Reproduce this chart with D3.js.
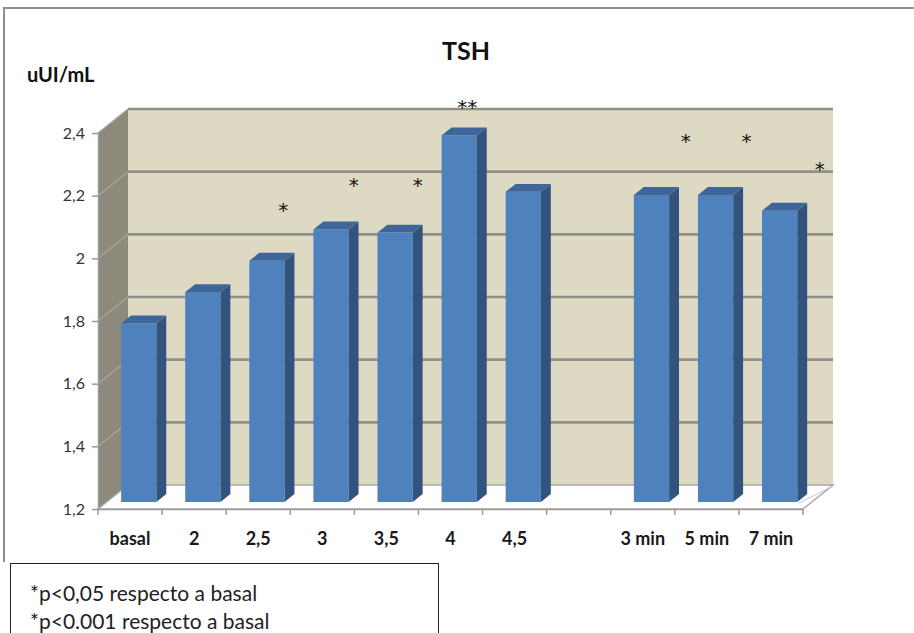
<!DOCTYPE html>
<html>
<head>
<meta charset="utf-8">
<script src="https://cdn.jsdelivr.net/npm/d3@7/dist/d3.min.js"></script>
<style>
  html, body { margin: 0; padding: 0; background: #fff; }
  svg { display: block; font-family: Lato, "Open Sans", sans-serif; }
</style>
</head>
<body>
<svg id="chart" width="914" height="633"></svg>
<script>
// TSH levels per sampling point
const categories = ["basal", "2", "2,5", "3", "3,5", "4", "4,5", "", "3 min", "5 min", "7 min"];
const values     = [1.77, 1.87, 1.97, 2.07, 2.06, 2.37, 2.19, null, 2.18, 2.18, 2.13];

// significance markers placed above the bars
const markCategories = ["2,5", "3", "3,5", "4", "3 min", "5 min", "7 min"];
const markTexts      = ["*", "*", "*", "**", "*", "*", "*"];
const markLevels     = [2.17, 2.25, 2.25, 2.50, 2.39, 2.39, 2.30];
const markShifts     = [0.39, 0.49, 0.49, 0.26, 0.67, 0.62, 0.76];

const yTicks      = [1.2, 1.4, 1.6, 1.8, 2.0, 2.2, 2.4];
const yTickLabels = ["1,2", "1,4", "1,6", "1,8", "2", "2,2", "2,4"];

const legendLines = ["*p<0,05 respecto a basal", "*p<0.001 respecto a basal"];

const svg = d3.select("#chart");

// oblique 3D projection: front plane + depth offset
const DX = 30, DY = 24;
const x = d3.scaleBand().domain(d3.range(categories.length)).range([98, 803]).paddingInner(0).paddingOuter(0);
const y = d3.scaleLinear().domain([1.2, 2.4]).range([509, 133]);
const P = (px, v, z) => [px + z * DX, y(v) - z * DY];
const poly = pts => "M" + pts.map(p => p.join(",")).join("L") + "Z";

const x0 = x.range()[0], x1 = x.range()[1];
const vMin = y.domain()[0], vMax = y.domain()[1];

// outer chart frame
svg.append("path")
  .attr("d", `M4,562 L4,8 L914,8`)
  .attr("fill", "none").attr("stroke", "#8f8f8f").attr("stroke-width", 2);

// side wall
svg.append("path")
  .attr("d", poly([P(x0, vMax, 0), P(x0, vMax, 1), P(x0, vMin, 1), P(x0, vMin, 0)]))
  .attr("fill", "#8d8a7b");

// back wall
svg.append("path")
  .attr("d", poly([P(x0, vMax, 1), P(x1, vMax, 1), P(x1, vMin, 1), P(x0, vMin, 1)]))
  .attr("fill", "#ddd9c3");

// gridlines on side and back walls
yTicks.forEach(t => {
  if (t === vMin) return;
  const a = P(x0, t, 0), b = P(x0, t, 1), c = P(x1, t, 1);
  svg.append("line")
    .attr("x1", a[0]).attr("y1", a[1]).attr("x2", b[0]).attr("y2", b[1])
    .attr("stroke", "#a9a79b").attr("stroke-width", 1.2);
  svg.append("line")
    .attr("x1", b[0]).attr("y1", b[1]).attr("x2", c[0]).attr("y2", c[1])
    .attr("stroke", "#8f8e8a").attr("stroke-width", 2.6);
});

// floor
svg.append("path")
  .attr("d", poly([P(x0, vMin, 0), P(x1, vMin, 0), P(x1, vMin, 1), P(x0, vMin, 1)]))
  .attr("fill", "#ffffff").attr("stroke", "#a8a8a8").attr("stroke-width", 1.5);
{
  const a = P(x1, vMin, 0), b = P(x1, vMin, 1);
  svg.append("line")
    .attr("x1", a[0] - 4).attr("y1", a[1] - 6).attr("x2", b[0]).attr("y2", b[1] + 1)
    .attr("stroke", "#c4c4c4").attr("stroke-width", 1);
}

// bars
const zFront = 0.29, zBack = 0.62;
const barFrac = 0.55;
const bars = svg.append("g");
categories.forEach((c, i) => {
  const v = values[i];
  if (v == null) return;
  const bw = x.bandwidth() * barFrac;
  const left = x(i) + (x.bandwidth() - bw) / 2;
  const right = left + bw;
  const g = bars.append("g");
  // front face
  g.append("path")
    .attr("d", poly([P(left, v, zFront), P(right, v, zFront), P(right, vMin, zFront), P(left, vMin, zFront)]))
    .attr("fill", "#4f81bd");
  // right side face
  g.append("path")
    .attr("d", poly([P(right, v, zFront), P(right, v, zBack), P(right, vMin, zBack), P(right, vMin, zFront)]))
    .attr("fill", "#33537f");
  // top face
  g.append("path")
    .attr("d", poly([P(left, v, zFront), P(right, v, zFront), P(right, v, zBack), P(left, v, zBack)]))
    .attr("fill", "#3e669b");
});

// value axis
const yAxis = svg.append("g").attr("transform", `translate(${x0},0)`)
  .call(d3.axisLeft(y).tickValues(yTicks).tickSize(6).tickSizeOuter(0)
    .tickFormat((d, i) => yTickLabels[i]));
yAxis.select(".domain").attr("stroke", "#9a9a9a").attr("stroke-width", 1.5);
yAxis.selectAll(".tick line").attr("stroke", "#9a9a9a").attr("stroke-width", 1.5);
yAxis.selectAll(".tick text").attr("font-size", 16).attr("fill", "#333").attr("x", -13)
  .attr("font-family", "Lato, sans-serif");

// category axis
const xAxis = svg.append("g").attr("transform", `translate(0,${y(vMin)})`)
  .call(d3.axisBottom(x).tickSize(0).tickFormat(i => categories[i]));
xAxis.select(".domain").attr("stroke", "#9a9a9a").attr("stroke-width", 1.5);
xAxis.selectAll(".tick text").attr("font-size", 18).attr("font-weight", "bold")
  .attr("fill", "#1a1a1a").attr("dy", 0).attr("y", 36).attr("font-family", "Lato, sans-serif");
d3.range(categories.length + 1).forEach(i => {
  const px = x0 + i * x.bandwidth();
  xAxis.append("line").attr("x1", px).attr("x2", px).attr("y1", 0).attr("y2", 6)
    .attr("stroke", "#9a9a9a").attr("stroke-width", 1.5);
});

// significance markers
markCategories.forEach((c, k) => {
  const i = categories.indexOf(c);
  svg.append("text")
    .attr("x", x(i) + x.bandwidth() * (0.5 + markShifts[k]))
    .attr("y", y(markLevels[k]) + 12)
    .attr("text-anchor", "middle")
    .attr("font-family", "'DejaVu Sans', sans-serif")
    .attr("font-size", 20).attr("fill", "#111")
    .text(markTexts[k]);
});

// title and unit
svg.append("text").attr("x", 466).attr("y", 60).attr("text-anchor", "middle")
  .attr("font-size", 25).attr("font-weight", "bold").attr("fill", "#111").text("TSH");
svg.append("text").attr("x", 27).attr("y", 82)
  .attr("font-size", 20).attr("font-weight", "bold").attr("fill", "#111").text("uUI/mL");

// significance legend box
svg.append("rect").attr("x", 10.5).attr("y", 563.5).attr("width", 428).attr("height", 100)
  .attr("fill", "#fff").attr("stroke", "#222").attr("stroke-width", 1);
legendLines.forEach((t, i) => {
  svg.append("text").attr("x", 30).attr("y", 601 + i * 28)
    .attr("font-size", 21).attr("fill", "#222").text(t);
});
</script>
</body>
</html>
